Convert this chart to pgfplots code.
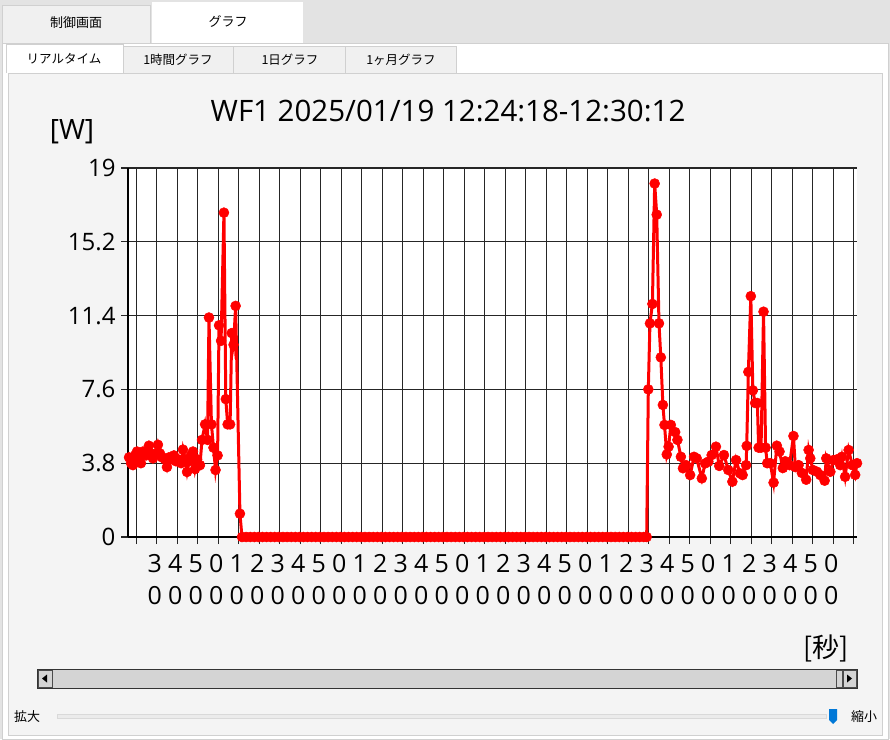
\documentclass[border=0pt]{standalone}
\usepackage{fontspec}
\setmainfont{Open Sans}
\newfontfamily\jp{Noto Sans CJK JP}
\usepackage{pgfplots}
\pgfplotsset{compat=1.18}
\definecolor{topgray}{HTML}{E3E3E3}
\definecolor{tabgray}{HTML}{F0F0F0}
\definecolor{edge}{HTML}{D0D0D0}
\definecolor{panel}{HTML}{F4F4F4}
\definecolor{scroll}{HTML}{D4D4D4}
\definecolor{thumbblue}{HTML}{0078D7}

\begin{document}
\begin{tikzpicture}[x=1pt,y=1pt]
\useasboundingbox (0,0) rectangle (890,739);
% window chrome
\fill[topgray] (0,0) rectangle (890,739);
\filldraw[fill=tabgray,draw=edge] (2,734) rectangle (150,696);
\fill[white] (152,737) rectangle (303,696);
\node[font=\jp\fontsize{13}{13}\selectfont] at (76,716) {制御画面};
\node[font=\jp\fontsize{13}{13}\selectfont] at (228,718) {グラフ};
\filldraw[fill=white,draw=edge] (2,696) rectangle (888,0);
\filldraw[fill=tabgray,draw=edge] (123,693) rectangle (233,666);
\filldraw[fill=tabgray,draw=edge] (233,693) rectangle (345,666);
\filldraw[fill=tabgray,draw=edge] (345,693) rectangle (456,666);
\filldraw[fill=white,draw=edge] (6,666) -- (6,695) -- (123,695) -- (123,666);
\node[font=\jp\fontsize{12.5}{12.5}\selectfont] at (64,680) {リアルタイム};
\node[font=\jp\fontsize{12.5}{12.5}\selectfont] at (178,679) {1時間グラフ};
\node[font=\jp\fontsize{12.5}{12.5}\selectfont] at (290,679) {1日グラフ};
\node[font=\jp\fontsize{12.5}{12.5}\selectfont] at (401,679) {1ヶ月グラフ};
\filldraw[fill=panel,draw=edge] (8,666) rectangle (882,4);

% titles and units
\node[font=\fontsize{29.5}{29.5}\selectfont] at (448,628) {WF1 2025/01/19 12:24:18-12:30:12};
\node[font=\fontsize{28}{28}\selectfont] at (72,607) {[W]};
\node[font=\jp\fontsize{27}{27}\selectfont] at (826,91) {[秒]};

% scrollbar
\filldraw[fill=scroll,draw=black!80,line width=1pt] (37,51) rectangle (857,70);
\filldraw[fill=scroll,draw=black!70] (38,52) rectangle (52,69);
\fill[black] (42,60.5) -- (47,64.5) -- (47,56.5) -- cycle;
\filldraw[fill=scroll,draw=black!70] (836,52) rectangle (842,69);
\filldraw[fill=scroll,draw=black!70] (843,52) rectangle (856,69);
\fill[black] (852,60.5) -- (847,64.5) -- (847,56.5) -- cycle;

% zoom slider
\node[font=\jp\fontsize{13}{13}\selectfont] at (27,22) {拡大};
\filldraw[fill=black!8,draw=black!15] (57,21) rectangle (826,25);
\fill[thumbblue] (829,30) -- (837,30) -- (837,19) -- (833,15) -- (829,19) -- cycle;
\node[font=\jp\fontsize{13}{13}\selectfont] at (864,22) {縮小};

\begin{axis}[
  at={(128pt,202pt)}, anchor=south west,
  scale only axis, width=729pt, height=369pt,
  xmin=16, xmax=371.6, ymin=0, ymax=19,
  axis background/.style={fill=white},
  axis x line*=bottom, axis y line*=left,
  axis line style={black, line width=1.3pt},
  clip=false,
  grid=major,
  major grid style={black!85, line width=1.3pt},
  tick style={black!85, line width=1.3pt},
  tick align=outside,
  major tick length=7pt,
  ytick={0,3.8,7.6,11.4,15.2,19},
  yticklabels={0,3.8,7.6,11.4,15.2,19},
  yticklabel style={font=\fontsize{24}{24}\selectfont, xshift=-2pt},
  xtick={20,30,...,370},
  xticklabels={,3\\0,4\\0,5\\0,0\\0,1\\0,2\\0,3\\0,4\\0,5\\0,0\\0,1\\0,2\\0,3\\0,4\\0,5\\0,0\\0,1\\0,2\\0,3\\0,4\\0,5\\0,0\\0,1\\0,2\\0,3\\0,4\\0,5\\0,0\\0,1\\0,2\\0,3\\0,4\\0,5\\0,0\\0,},
  xticklabel style={font=\fontsize{25}{32}\selectfont, align=center, xshift=-2pt, yshift=-7pt},
]
\addplot[red, line width=3pt, mark=*, mark size=5pt, mark options={fill=red, draw=red, line width=0.5pt}] coordinates {
(16.5,4.1) (17.5,3.8) (18.4,3.7) (19.4,4.2) (20.4,4.4) (21.4,4.0) (22.3,3.8) (23.3,4.4) (24.8,4.2) (26.2,4.7)
(27.2,4.3) (28.2,4.05) (29.7,4.3) (30.6,4.75) (31.6,4.3) (32.6,4.1) (34.0,4.0) (35.0,3.6) (36.0,4.1) (37.5,4.0)
(38.4,4.2) (39.4,3.9) (40.4,4.0) (41.9,3.8) (42.8,4.5) (43.8,4.0) (44.8,3.35) (45.8,3.9) (46.7,4.2) (47.7,4.4)
(48.7,3.5) (49.7,4.0) (51.1,3.7) (52.1,5.0) (53.6,5.8) (54.8,5.0) (55.5,11.3) (56.7,5.8) (57.7,4.6) (58.7,3.45)
(59.7,4.2) (60.4,10.9) (61.4,10.1) (62.8,16.7) (63.7,7.1) (64.6,5.8) (65.8,5.8) (66.6,10.5) (67.5,9.9) (68.5,11.9)
(70.6,1.2)
(71.6,0) (73.6,0) (75.6,0) (77.6,0) (79.6,0) (81.6,0) (83.6,0) (85.6,0) (87.6,0) (89.6,0)
(91.6,0) (93.6,0) (95.6,0) (97.6,0) (99.6,0) (101.6,0) (103.6,0) (105.6,0) (107.6,0) (109.6,0)
(111.6,0) (113.6,0) (115.6,0) (117.6,0) (119.6,0) (121.6,0) (123.6,0) (125.6,0) (127.6,0) (129.6,0)
(131.6,0) (133.6,0) (135.6,0) (137.6,0) (139.6,0) (141.6,0) (143.6,0) (145.6,0) (147.6,0) (149.6,0)
(151.6,0) (153.6,0) (155.6,0) (157.6,0) (159.6,0) (161.6,0) (163.6,0) (165.6,0) (167.6,0) (169.6,0)
(171.6,0) (173.6,0) (175.6,0) (177.6,0) (179.6,0) (181.6,0) (183.6,0) (185.6,0) (187.6,0) (189.6,0)
(191.6,0) (193.6,0) (195.6,0) (197.6,0) (199.6,0) (201.6,0) (203.6,0) (205.6,0) (207.6,0) (209.6,0)
(211.6,0) (213.6,0) (215.6,0) (217.6,0) (219.6,0) (221.6,0) (223.6,0) (225.6,0) (227.6,0) (229.6,0)
(231.6,0) (233.6,0) (235.6,0) (237.6,0) (239.6,0) (241.6,0) (243.6,0) (245.6,0) (247.6,0) (249.6,0)
(251.6,0) (253.6,0) (255.6,0) (257.6,0) (259.6,0) (261.6,0) (263.6,0) (265.6,0) (267.6,0) (269.0,0)
(269.8,7.6) (270.6,11.0) (271.8,12.0) (272.9,18.2) (273.9,16.6) (275.0,11.0) (275.9,9.25) (276.9,6.8) (277.7,5.77) (278.8,4.25)
(279.7,4.65) (280.8,5.77) (282.9,5.4) (284.0,5.0) (285.7,4.13) (286.7,3.54) (288.2,3.7) (290.2,3.19) (292.1,4.13) (293.4,4.05)
(295.9,3.02) (297.5,3.79) (299.1,3.88) (300.7,4.22) (302.8,4.65) (304.4,3.66) (306.7,4.22) (308.8,3.45) (310.8,2.85) (312.6,3.96)
(314.5,3.28) (315.8,3.19) (317.5,3.7) (317.8,4.69) (318.6,8.5) (319.8,12.4) (320.8,7.55) (321.9,6.9) (323.0,6.9) (323.6,4.6)
(324.8,4.6) (326.0,11.6) (327.0,4.6) (327.8,3.8) (329.3,3.8) (330.9,2.8) (332.5,4.7) (333.8,4.4) (335.4,3.55) (336.6,3.9)
(338.7,3.7) (340.6,5.2) (341.5,3.6) (343.1,3.7) (344.7,3.3) (346.8,2.95) (348.0,4.48) (348.8,4.05) (350.1,3.45) (352.1,3.36)
(353.7,3.19) (355.8,2.9) (356.6,4.05) (358.6,3.36) (360.1,3.96) (361.9,4.0) (363.4,3.7) (364.2,4.13) (365.8,3.1) (367.5,4.48)
(369.3,3.7) (370.7,3.2) (371.6,3.8)
};
\end{axis}
\end{tikzpicture}
\end{document}
